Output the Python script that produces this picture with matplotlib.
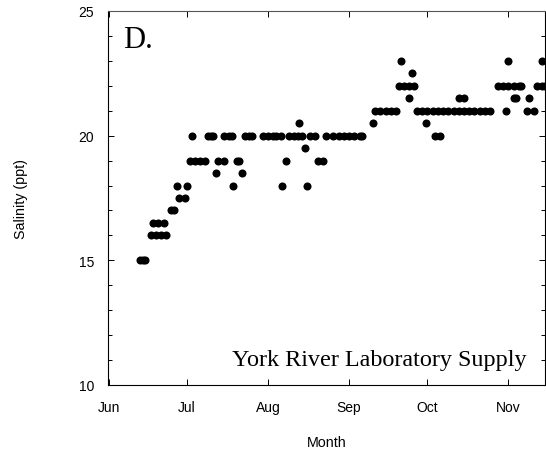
import matplotlib
matplotlib.use('Agg')
from matplotlib import pyplot as plt
from matplotlib.ticker import MultipleLocator

day = [164, 165, 166,
       168, 170, 172, 174,
       169, 171, 173,
       176, 177,
       179, 181,
       178, 182, 199.5, 218.5, 228,
       193, 203,
       183, 185, 187, 189, 194, 196, 201, 202, 220, 232, 234,
       227,
       184, 190, 191, 192, 196, 198, 199, 204, 205.5, 207, 211, 213, 215, 216, 218,
       221, 223, 224.5, 226, 229, 231, 235, 238, 240, 242, 244, 246, 248, 249, 277, 279,
       225, 253, 273.5,
       254, 256, 258, 260, 262, 270, 272, 274, 276, 278, 280, 282, 284, 286, 288, 290,
       292, 294, 296, 298, 304, 312, 315,
       267, 286, 288, 307, 308, 313,
       263, 265, 267, 269, 301, 303, 305, 307, 309, 310, 316, 318, 319,
       268,
       264, 305, 318]

salinity = [15] * 3 + [16] * 4 + [16.5] * 3 + [17] * 2 + [17.5] * 2 + [18] * 5 + \
           [18.5] * 2 + [19] * 11 + [19.5] * 1 + [20] * 31 + [20.5] * 3 + \
           [21] * 23 + [21.5] * 6 + [22] * 13 + [22.5] * 1 + [23] * 3

month_days = [152, 182, 213, 244, 274, 305]
month_names = ['Jun', 'Jul', 'Aug', 'Sep', 'Oct', 'Nov']

fig = plt.figure(figsize=(5.46, 4.52), dpi=100)
ax = fig.add_axes([108 / 546, 1 - 386 / 452, 1 - 108 / 546 - 0.001, (386 - 12) / 452])

ax.plot(day, salinity, 'o', color='black', markersize=5.8, markeredgewidth=0)

ax.set_xlim(151.7, 319.2)
ax.set_ylim(10, 25)

ax.set_xticks(month_days)
ax.set_xticklabels(month_names, family='Liberation Sans', fontsize=10)
ax.set_yticks([10, 15, 20, 25])
ax.set_yticklabels(['10', '15', '20', '25'], family='Liberation Sans', fontsize=10)
ax.yaxis.set_minor_locator(MultipleLocator(1))
ax.tick_params(which='both', direction='in', top=True, right=True, width=0.7)
ax.tick_params(which='major', length=4)
ax.tick_params(which='minor', length=3)
ax.tick_params(axis='x', pad=11)
ax.tick_params(axis='y', pad=10)

for s in ax.spines.values():
    s.set_linewidth(0.8)
ax.spines['top'].set_color('#555555')

ax.set_xlabel('Month', family='Liberation Sans', fontsize=10.3, labelpad=15)
ax.set_ylabel('Salinity (ppt)', family='Liberation Sans', fontsize=10.3, labelpad=36)

ax.text(0.035, 0.905, 'D.', transform=ax.transAxes, family='Liberation Serif', fontsize=22)
ax.text(0.958, 0.0535, 'York River Laboratory Supply', transform=ax.transAxes,
        family='Liberation Serif', fontsize=17.4, ha='right')

plt.savefig('out.png', dpi=100)
